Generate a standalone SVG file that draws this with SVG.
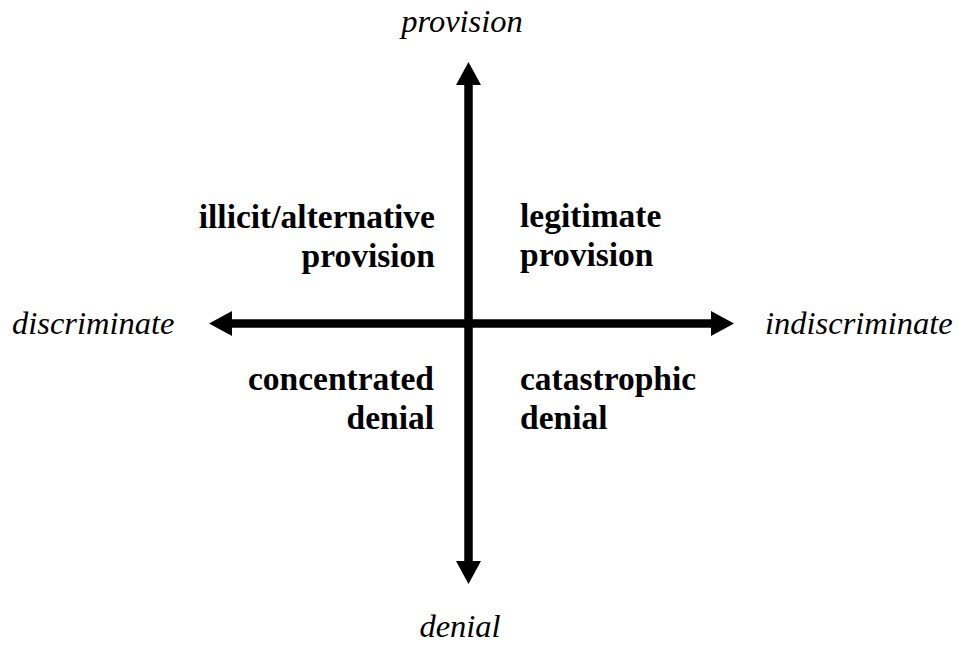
<svg xmlns="http://www.w3.org/2000/svg" width="959" height="645" viewBox="0 0 959 645">
<style>
.ax{font-family:"Liberation Serif","Times New Roman",serif;font-style:italic;font-size:32.5px;fill:#000}
.q{font-family:"Liberation Serif","Times New Roman",serif;font-weight:bold;font-size:33.5px;fill:#000}
.ln{stroke:#000;stroke-width:8.5;fill:none}
</style>
<defs>
<marker id="ah" viewBox="0 0 23 25" refX="0" refY="12.5" markerWidth="23" markerHeight="25" markerUnits="userSpaceOnUse" orient="auto-start-reverse">
<path d="M0,0 L23,12.5 L0,25 z" fill="#000"/>
</marker>
</defs>
<rect width="959" height="645" fill="#fff"/>
<g id="connectors">
<line class="ln" x1="468.5" y1="85" x2="468.5" y2="561" marker-start="url(#ah)" marker-end="url(#ah)"/>
<line class="ln" x1="232" y1="323.5" x2="711" y2="323.5" marker-start="url(#ah)" marker-end="url(#ah)"/>
</g>
<g id="axis-provision"><text class="ax" x="462" y="32" text-anchor="middle">provision</text></g>
<g id="axis-denial"><text class="ax" x="460" y="637" text-anchor="middle">denial</text></g>
<g id="axis-discriminate"><text class="ax" x="12" y="334">discriminate</text></g>
<g id="axis-indiscriminate"><text class="ax" x="765" y="334">indiscriminate</text></g>
<g id="q-illicit"><text class="q" text-anchor="end"><tspan x="435" y="228">illicit/alternative</tspan><tspan x="435" y="267">provision</tspan></text></g>
<g id="q-legitimate"><text class="q"><tspan x="520" y="227">legitimate</tspan><tspan x="520" y="266">provision</tspan></text></g>
<g id="q-concentrated"><text class="q" text-anchor="end"><tspan x="434" y="390">concentrated</tspan><tspan x="434" y="429">denial</tspan></text></g>
<g id="q-catastrophic"><text class="q"><tspan x="520" y="390">catastrophic</tspan><tspan x="520" y="429">denial</tspan></text></g>
</svg>
